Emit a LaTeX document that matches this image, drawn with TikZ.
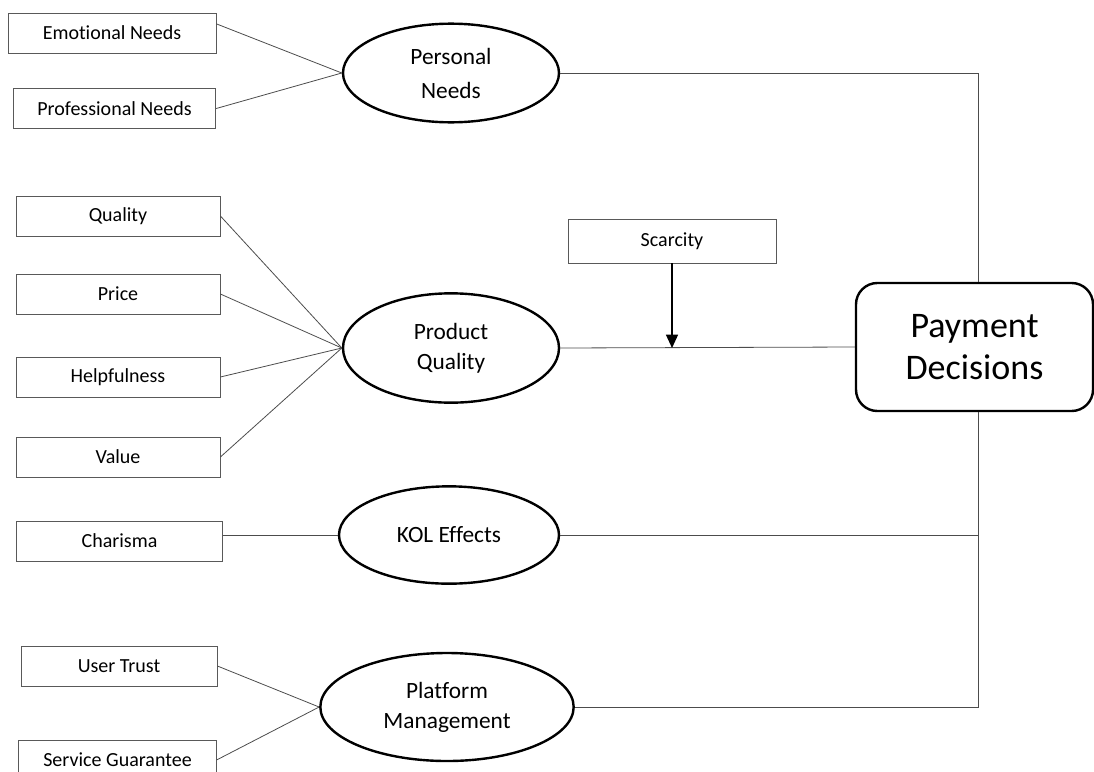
\documentclass[tikz,border=0pt]{standalone}
\usepackage{fontspec}
\setmainfont{Carlito}[Ligatures={NoCommon}]
\usepackage{xcolor}
\usetikzlibrary{shapes.geometric,arrows.meta}

\begin{document}
\begin{tikzpicture}[x=0.75pt, y=-0.75pt,
  item/.style={draw=black!65, line width=0.6pt, minimum width=153pt, minimum height=30pt, inner sep=0pt, font=\fontsize{15}{17}\selectfont},
  factor/.style={ellipse, draw, line width=1.8pt, inner sep=0pt, align=center, font=\fontsize{17.5}{22.5}\selectfont},
  decision/.style={draw, line width=1.8pt, rounded corners=16pt, minimum width=177.75pt, minimum height=96pt, align=center, font=\fontsize{27}{32}\selectfont},
  link/.style={draw=black!70, line width=0.6pt},
]
\useasboundingbox (0,0) rectangle (1094,771);
% Indicators
\node[item, minimum width=156pt] (emo)   at (112,33)    {Emotional Needs};
\node[item, minimum width=152pt] (prof)  at (114.5,108.5) {Professional Needs};
\node[item]                      (qual)  at (118,216)   {Quality};
\node[item]                      (price) at (118,294)   {Price};
\node[item]                      (help)  at (118,377)   {Helpfulness};
\node[item]                      (value) at (118,457)   {Value};
\node[item, minimum width=154pt] (char)  at (119.5,541) {Charisma};
\node[item, minimum width=147pt] (trust) at (119,666)   {User Trust};
\node[item, minimum width=148pt] (serv)  at (117.5,760) {Service Guarantee};
\node[item, minimum width=156pt, minimum height=33pt] (scar) at (672,241) {Scarcity};
% Factors
\node[factor, minimum width=162pt, minimum height=74pt, font=\fontsize{17.5}{25.5}\selectfont] (pers) at (451,73) {Personal\\Needs};
\node[factor, minimum width=162pt, minimum height=82pt] (prodq) at (451,348) {Product\\Quality};
\node[factor, minimum width=165pt, minimum height=73pt] (kol)   at (449,535) {KOL Effects};
\node[factor, minimum width=190pt, minimum height=81pt] (plat)  at (447,707) {Platform\\Management};
\node[decision] (pay) at (974.5,347) {Payment\\Decisions};
% Links
\draw[link] (emo.5) -- (pers.west);
\draw[link] (prof.east) -- (pers.west);
\draw[link] (qual.east) -- (prodq.west);
\draw[link] (price.east) -- (prodq.west);
\draw[link] (help.east) -- (prodq.west);
\draw[link] (value.east) -- (prodq.west);
\draw[link] (char.east |- kol.west) -- (kol.west);
\draw[link] (trust.east) -- (plat.west);
\draw[link] (serv.east) -- (plat.west);
\draw[link] (pers.east) -| ([xshift=2.6pt]pay.north);
\draw[link] (prodq.east) -- (pay.west);
\draw[link] (kol.east) -| ([xshift=2.6pt]pay.south);
\draw[link] (plat.east) -| ([xshift=2.6pt]pay.south);
\draw[line width=1pt, -{Triangle[width=9pt,length=10pt]}] (scar.south) -- (scar.south |- prodq.east);
\end{tikzpicture}
\end{document}
